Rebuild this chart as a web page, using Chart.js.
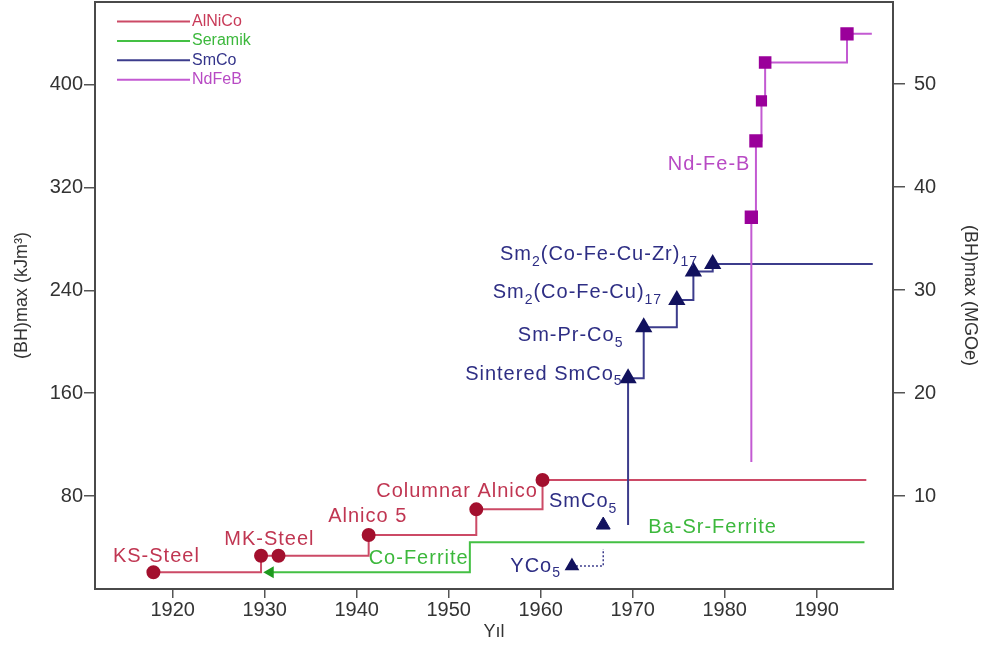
<!DOCTYPE html>
<html>
<head>
<meta charset="utf-8">
<script src="https://cdn.jsdelivr.net/npm/chart.js@4.4.0/dist/chart.umd.min.js"></script>
<style>
  html, body { margin: 0; padding: 0; background: #fff; }
  #kutu { width: 988px; height: 648px; }
</style>
</head>
<body>
<div id="kutu"><canvas id="grafik" width="988" height="648"></canvas></div>
<script>
// Eksen etiketleri
const yilEtiketleri = [1920, 1930, 1940, 1950, 1960, 1970, 1980, 1990];
const kjEtiketleri = [80, 160, 240, 320, 400];
const mgoeEtiketleri = [10, 20, 30, 40, 50];

// AlNiCo (kJ/m3)
const alnicoYil = [1917.9, 1929.6, 1931.5, 1941.3, 1953.0, 1960.2, 1995.4];
const alnicoDeger = [20.6, 33.5, 33.5, 49.6, 69.6, 92.5, 92.5];

// Seramik
const seramikYil = [1930.6, 1952.3, 1995.2];
const seramikDeger = [20.6, 44.0, 44.0];

// SmCo
const smcoYil = [1969.5, 1969.5, 1971.2, 1974.8, 1976.6, 1978.7, 1996.1];
const smcoDeger = [57.4, 171.7, 211.4, 232.6, 254.7, 260.7, 260.7];
const ycoYil = [1963.4, 1966.8];
const ycoDeger = [25.5, 38.7];
const smco5Yil = [1966.8];
const smco5Deger = [57.4];

// NdFeB
const ndfebYil = [1982.9, 1982.9, 1983.4, 1984.0, 1984.4, 1993.3, 1996.0];
const ndfebDeger = [106.5, 297.0, 356.5, 387.6, 417.5, 439.8, 439.8];

// Renkler
const kirmiziCizgi = '#cc4a66';
const kirmiziNokta = '#a3102e';
const yesilCizgi = '#44c044';
const laciCizgi = '#3c3c8c';
const laciNokta = '#12125e';
const morCizgi = '#c35ad2';
const morNokta = '#9a009a';

// Grafik ustundeki yazilar, {..} alt simge
const etiketler = [
    { metin: 'KS-Steel', yil: 1913.5, deger: 32.7, renk: '#c03652', hiza: 'left' },
    { metin: 'MK-Steel', yil: 1925.6, deger: 46.5, renk: '#c03652', hiza: 'left' },
    { metin: 'Alnico 5', yil: 1936.9, deger: 63.9, renk: '#c03652', hiza: 'left' },
    { metin: 'Columnar Alnico', yil: 1959.7, deger: 83.3, renk: '#c03652', hiza: 'right' },
    { metin: 'Co-Ferrite', yil: 1941.3, deger: 31.7, renk: '#3cb83c', hiza: 'left' },
    { metin: 'Ba-Sr-Ferrite', yil: 1971.7, deger: 55.3, renk: '#3cb83c', hiza: 'left' },
    { metin: 'SmCo{5}', yil: 1960.9, deger: 75.6, renk: '#2e2e84', hiza: 'left' },
    { metin: 'YCo{5}', yil: 1956.7, deger: 25.5, renk: '#2e2e84', hiza: 'left' },
    { metin: 'Sintered SmCo{5}', yil: 1968.9, deger: 174.8, renk: '#2e2e84', hiza: 'right' },
    { metin: 'Sm-Pr-Co{5}', yil: 1969.0, deger: 204.8, renk: '#2e2e84', hiza: 'right' },
    { metin: 'Sm{2}(Co-Fe-Cu){17}', yil: 1973.2, deger: 238.1, renk: '#2e2e84', hiza: 'right' },
    { metin: 'Sm{2}(Co-Fe-Cu-Zr){17}', yil: 1977.1, deger: 267.7, renk: '#2e2e84', hiza: 'right' },
    { metin: 'Nd-Fe-B', yil: 1982.8, deger: 338.3, renk: '#b84ac4', hiza: 'right' }
];

function noktalar(yillar, degerler) {
    return yillar.map((v, i) => ({ x: v, y: degerler[i] }));
}

function parcala(metin) {
    return metin.split(/(\{[^}]*\})/).filter(p => p.length).map(p => {
        if (p[0] === '{') return { t: p.slice(1, -1), alt: true };
        return { t: p, alt: false };
    });
}

// Cerceve
const cerceveEklentisi = {
    id: 'cerceve',
    afterDraw(chart) {
        const { ctx, chartArea: a } = chart;
        ctx.save();
        ctx.strokeStyle = '#4a4a4a';
        ctx.lineWidth = 2;
        ctx.strokeRect(a.left, a.top, a.right - a.left, a.bottom - a.top);
        ctx.restore();
    }
};

// Sol ustteki aciklama
const aciklamaEklentisi = {
    id: 'aciklama',
    afterDraw(chart) {
        const ctx = chart.ctx;
        ctx.save();
        ctx.font = '16px "Liberation Sans", Arial, sans-serif';
        ctx.textBaseline = 'middle';
        chart.data.datasets.filter(d => d.aciklama).forEach((d, i) => {
            const y = 21.5 + i * 19.4;
            ctx.strokeStyle = d.borderColor;
            ctx.lineWidth = 2;
            ctx.beginPath();
            ctx.moveTo(117, y);
            ctx.lineTo(190, y);
            ctx.stroke();
            ctx.fillStyle = d.yaziRengi;
            ctx.fillText(d.label, 192, y);
        });
        ctx.restore();
    }
};

// Malzeme isimleri
const yaziEklentisi = {
    id: 'yazilar',
    afterDatasetsDraw(chart) {
        const { ctx, scales: { x, y } } = chart;
        const anaFont = '20px "Liberation Sans", Arial, sans-serif';
        const altFont = '14px "Liberation Sans", Arial, sans-serif';
        ctx.save();
        ctx.textBaseline = 'middle';
        ctx.textAlign = 'left';
        ctx.letterSpacing = '1px';
        etiketler.forEach(e => {
            const parcalar = parcala(e.metin);
            let genislik = 0;
            parcalar.forEach(p => {
                ctx.font = p.alt ? altFont : anaFont;
                p.w = ctx.measureText(p.t).width;
                genislik += p.w;
            });
            let px = x.getPixelForValue(e.yil);
            if (e.hiza === 'right') px -= genislik;
            const py = y.getPixelForValue(e.deger);
            ctx.fillStyle = e.renk;
            parcalar.forEach(p => {
                ctx.font = p.alt ? altFont : anaFont;
                ctx.fillText(p.t, px, p.alt ? py + 7 : py);
                px += p.w;
            });
        });
        ctx.restore();
    }
};

function sabitGenislik(w) {
    return function (scale) {
        scale.width = w;
        scale.paddingTop = 0;
        scale.paddingBottom = 0;
    };
}

const tikFont = { family: '"Liberation Sans", Arial, sans-serif', size: 20 };
const baslikFont = { family: '"Liberation Sans", Arial, sans-serif', size: 18 };

const grafik = new Chart(document.getElementById('grafik'), {
    type: 'line',
    data: {
        datasets: [
            {
                label: 'AlNiCo',
                aciklama: true,
                yaziRengi: '#c83a58',
                data: noktalar(alnicoYil, alnicoDeger),
                borderColor: kirmiziCizgi,
                borderWidth: 2,
                stepped: 'before',
                pointStyle: 'circle',
                pointRadius: [6, 6, 6, 6, 6, 6, 0],
                pointBackgroundColor: kirmiziNokta,
                pointBorderColor: kirmiziNokta,
                order: 2
            },
            {
                label: 'Seramik',
                aciklama: true,
                yaziRengi: '#3cb83c',
                data: noktalar(seramikYil, seramikDeger),
                borderColor: yesilCizgi,
                borderWidth: 2,
                stepped: 'before',
                pointStyle: 'triangle',
                pointRotation: -90,
                pointRadius: [5, 0, 0],
                pointBackgroundColor: '#1f9a1f',
                pointBorderColor: '#1f9a1f',
                order: 3
            },
            {
                label: 'SmCo',
                aciklama: true,
                yaziRengi: '#34348a',
                data: noktalar(smcoYil, smcoDeger),
                borderColor: laciCizgi,
                borderWidth: 2,
                stepped: 'before',
                pointStyle: 'triangle',
                pointRadius: [0, 8, 8, 8, 8, 8, 0],
                pointBackgroundColor: laciNokta,
                pointBorderColor: laciNokta,
                order: 1
            },
            {
                label: 'NdFeB',
                aciklama: true,
                yaziRengi: '#b84ac4',
                data: noktalar(ndfebYil, ndfebDeger),
                borderColor: morCizgi,
                borderWidth: 2,
                stepped: 'before',
                pointStyle: 'rect',
                pointRadius: [0, 8, 8, 6.5, 7.5, 8, 0],
                pointBackgroundColor: morNokta,
                pointBorderColor: morNokta,
                order: 0
            },
            {
                label: 'YCo5',
                data: noktalar(ycoYil, ycoDeger),
                borderColor: laciCizgi,
                borderWidth: 1.5,
                borderDash: [2, 2],
                stepped: 'before',
                pointStyle: 'triangle',
                pointRadius: [7, 0],
                pointBackgroundColor: laciNokta,
                pointBorderColor: laciNokta,
                order: 1
            },
            {
                label: 'SmCo5',
                data: noktalar(smco5Yil, smco5Deger),
                showLine: false,
                pointStyle: 'triangle',
                pointRadius: 8,
                pointBackgroundColor: laciNokta,
                pointBorderColor: laciNokta,
                order: 1
            }
        ]
    },
    options: {
        responsive: false,
        animation: false,
        layout: { autoPadding: false, padding: { top: 2, left: 0, right: 0, bottom: 0 } },
        plugins: {
            legend: { display: false },
            tooltip: { enabled: false }
        },
        scales: {
            x: {
                type: 'linear',
                position: 'bottom',
                min: 1911.55,
                max: 1998.3,
                afterBuildTicks: s => { s.ticks = yilEtiketleri.map(v => ({ value: v })); },
                afterFit: s => { s.height = 59; s.paddingLeft = 0; s.paddingRight = 0; },
                border: { display: false },
                grid: { drawOnChartArea: false, drawTicks: true, tickLength: 9, color: '#555', lineWidth: 1.5 },
                ticks: { color: '#333', font: tikFont, padding: 0, maxRotation: 0, callback: v => String(v) },
                title: { display: true, text: 'Yıl', color: '#333', font: baslikFont, padding: { top: 0, bottom: 5 } }
            },
            y: {
                type: 'linear',
                position: 'left',
                min: 7.6,
                max: 464.6,
                afterBuildTicks: s => { s.ticks = kjEtiketleri.map(v => ({ value: v })); },
                afterFit: sabitGenislik(95),
                border: { display: false },
                grid: { drawOnChartArea: false, drawTicks: true, tickLength: 11, color: '#555', lineWidth: 1.5 },
                ticks: { color: '#333', font: tikFont, padding: 1 },
                title: { display: true, text: '(BH)max (kJm³)', color: '#333', font: baslikFont, padding: { top: 11, bottom: 0 } }
            },
            y2: {
                type: 'linear',
                position: 'right',
                min: 0.97,
                max: 57.96,
                afterBuildTicks: s => { s.ticks = mgoeEtiketleri.map(v => ({ value: v })); },
                afterFit: sabitGenislik(95),
                border: { display: false },
                grid: { drawOnChartArea: false, drawTicks: true, tickLength: 12, color: '#555', lineWidth: 1.5 },
                ticks: { color: '#333', font: tikFont, padding: 9 },
                title: { display: true, text: '(BH)max (MGOe)', color: '#333', font: baslikFont, padding: { top: 7, bottom: 0 } }
            }
        }
    },
    plugins: [cerceveEklentisi, aciklamaEklentisi, yaziEklentisi]
});
</script>
</body>
</html>
